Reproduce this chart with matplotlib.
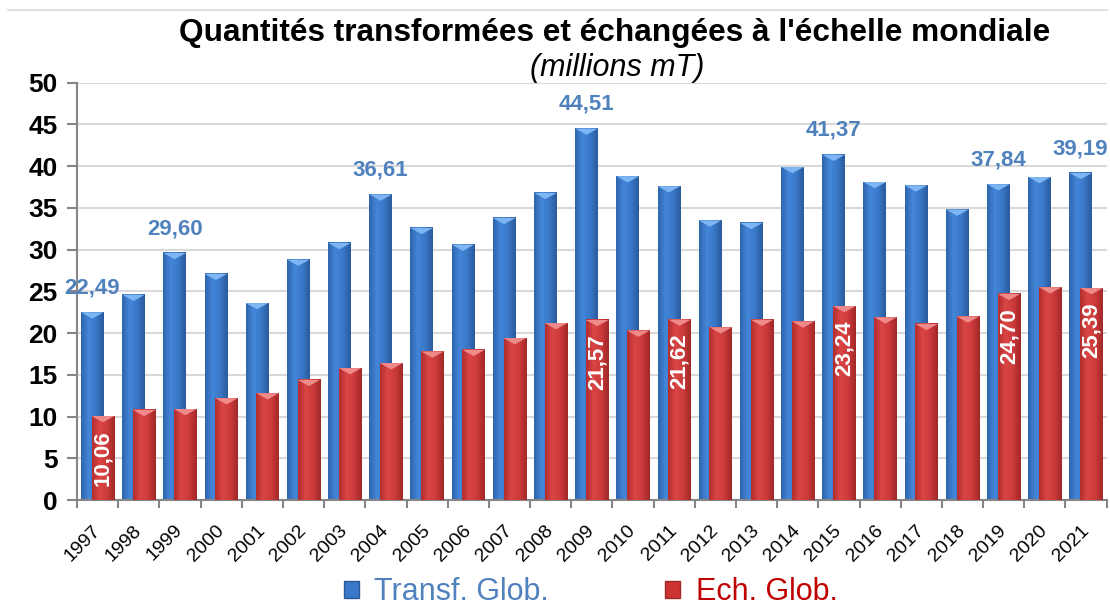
import matplotlib
matplotlib.use("Agg")
import matplotlib.pyplot as plt
import numpy as np
from matplotlib.colors import LinearSegmentedColormap
from matplotlib.patches import Polygon
from matplotlib.lines import Line2D

plt.rcParams["font.family"] = ["Liberation Sans", "DejaVu Sans"]

years = list(range(1997, 2022))
transf = [22.49, 24.6, 29.60, 27.1, 23.6, 28.8, 30.8, 36.61, 32.6, 30.6,
          33.8, 36.8, 44.51, 38.8, 37.6, 33.5, 33.2, 39.9, 41.37, 38.1,
          37.7, 34.8, 37.84, 38.7, 39.19]
ech = [10.06, 10.8, 10.9, 12.2, 12.8, 14.4, 15.8, 16.4, 17.8, 18.0,
       19.4, 21.2, 21.57, 20.3, 21.62, 20.7, 21.6, 21.4, 23.24, 21.9,
       21.1, 22.0, 24.70, 25.5, 25.39]
transf_labelled = [1997, 1999, 2004, 2009, 2015, 2019, 2021]
ech_labelled = [1997, 2009, 2011, 2015, 2019, 2021]

BLUE_TXT = "#4F81BD"
RED_TXT = "#C00000"


def fmt(v):
    return f"{v:.2f}".replace(".", ",")


def shade_bars(ax, bars, colors, tip_color, z):
    cmap = LinearSegmentedColormap.from_list("g", colors)
    grad = np.linspace(0, 1, 64).reshape(1, -1)
    for b in bars:
        x0, y0 = b.get_xy()
        w, h = b.get_width(), b.get_height()
        ax.imshow(grad, extent=[x0, x0 + w, y0, y0 + h], aspect="auto",
                  cmap=cmap, zorder=z, interpolation="bilinear")
        top = y0 + h
        ax.add_patch(Polygon([(x0, top), (x0 + w, top), (x0 + w / 2, top - 0.75)],
                             closed=True, facecolor=tip_color, edgecolor="none",
                             zorder=z + 0.1))


fig = plt.figure(figsize=(11.1, 6.06), dpi=100)
ax = fig.add_axes([0.0694, 0.1749, 0.9276, 0.6886])

x = np.arange(len(years))
width = 0.55
off = 0.13
b1 = ax.bar(x - off, transf, width, color="#3A77C8", label="Transf. Glob.", zorder=2)
b2 = ax.bar(x + off, ech, width, color="#CC3333", label="Ech. Glob.", zorder=3)
for b in list(b1) + list(b2):
    b.set_visible(False)

shade_bars(ax, b1, ["#2F64AE", "#4486D8", "#3A78C8", "#2A5A9C"], "#7DB6F2", 2)
shade_bars(ax, b2, ["#B32E2E", "#DA4545", "#CC3A3A", "#A12828"], "#F08A8A", 3)

for i, y in enumerate(years):
    if y in transf_labelled:
        ax.annotate(fmt(transf[i]), (x[i] - off, transf[i]), xytext=(0, 10),
                    textcoords="offset points", ha="center", va="bottom",
                    color=BLUE_TXT, fontsize=16, fontweight="bold", zorder=5)
    if y in ech_labelled:
        ax.annotate(fmt(ech[i]), (x[i] + off, ech[i]), xytext=(0, -10),
                    textcoords="offset points", ha="center", va="top",
                    rotation=90, color="white", fontsize=16,
                    fontweight="bold", zorder=5)

ax.set_xlim(-0.5, len(years) - 0.5)
ax.set_ylim(0, 50)
ax.set_yticks(range(0, 51, 5))
ax.yaxis.grid(True, color="#D9D9D9", linewidth=1.5)
ax.set_axisbelow(True)

ax.set_xticks(x)
ax.set_xticklabels([str(y) for y in years], rotation=45, ha="right",
                   va="center", rotation_mode="anchor", fontsize=14)
ax.set_xticks(np.arange(-0.5, len(years)), minor=True)
ax.tick_params(axis="x", which="major", length=0, pad=20)
ax.tick_params(axis="x", which="minor", length=6, width=1.5, color="#868686")
ax.tick_params(axis="y", length=7, width=1.5, color="#868686", labelsize=19, pad=7)
for lab in ax.get_yticklabels():
    lab.set_fontweight("bold")

for s in ["top", "right"]:
    ax.spines[s].set_visible(False)
for s in ["left", "bottom"]:
    ax.spines[s].set_color("#868686")
    ax.spines[s].set_linewidth(1.5)

fig.text(0.554, 0.9455, "Quantités transformées et échangées à l'échelle mondiale",
         ha="center", va="center", fontsize=22.8, fontweight="bold")
fig.text(0.556, 0.888, "(millions mT)", ha="center", va="center",
         fontsize=22, style="italic")

fig.add_artist(Line2D([0.007, 0.997], [0.983, 0.983], color="#D9D9D9",
                      linewidth=1.2, transform=fig.transFigure))

handles = [plt.Rectangle((0, 0), 1, 1, facecolor="#3A77C8", edgecolor="#2A5A9C"),
           plt.Rectangle((0, 0), 1, 1, facecolor="#CC3333", edgecolor="#A12828")]
leg = fig.legend(handles, ["Transf. Glob.", "Ech. Glob."], loc="center",
                 bbox_to_anchor=(0.532, 0.023), ncol=2, frameon=False,
                 fontsize=22, handlelength=0.5, handleheight=0.5,
                 handletextpad=0.5, columnspacing=3.8)
for t, c in zip(leg.get_texts(), [BLUE_TXT, RED_TXT]):
    t.set_color(c)

fig.savefig("out.png", dpi=100)
